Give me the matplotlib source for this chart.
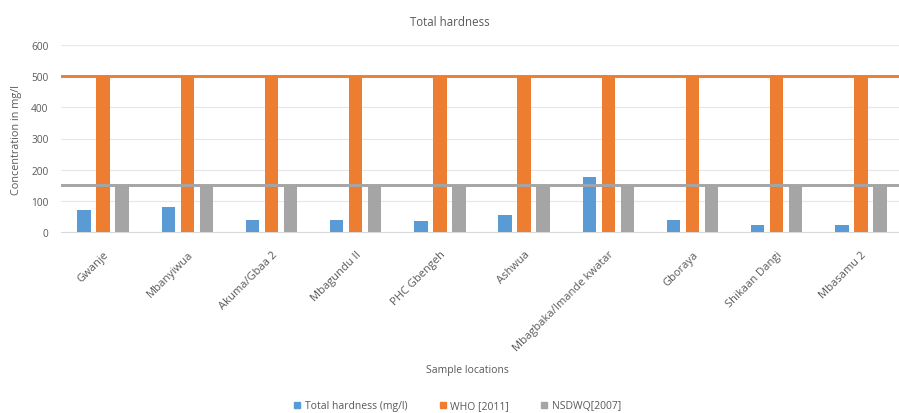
import matplotlib.pyplot as plt
import numpy as np
from matplotlib.lines import Line2D

plt.rcParams['font.family'] = ['Open Sans', 'DejaVu Sans']

locations = ["Gwanje", "Mbanyiwua", "Akuma/Gbaa 2", "Mbagundu II", "PHC Gbengeh",
             "Ashwua", "Mbagbaka/Imande kwatar", "Gboraya", "Shikaan Dangi", "Mbasamu 2"]
hardness = [71, 80, 37, 37, 34, 53, 176, 37, 23, 23]
who_2011 = [500] * 10
nsdwq_2007 = [150] * 10

blue = '#5B9BD5'
orange = '#ED7D31'
grey = '#A5A5A5'
txt = '#595959'

fig = plt.figure(figsize=(8.99, 4.14), dpi=100)
ax = fig.add_axes([61/899, 1 - 233/414, 842/899, (233 - 46)/414])

x = np.arange(len(locations))
w = 0.16
ax.bar(x - 0.225, hardness, w, color=blue, zorder=3)
ax.bar(x, who_2011, w, color=orange, zorder=3)
ax.bar(x + 0.225, nsdwq_2007, w, color=grey, zorder=3)

# guideline values drawn across the whole plot
ax.axhline(who_2011[0], color=orange, lw=2.1, zorder=4)
ax.axhline(nsdwq_2007[0], color=grey, lw=2.1, zorder=4)

ax.set_xlim(-0.5, len(locations) - 0.5)
ax.set_ylim(0, 600)
ax.set_yticks(range(0, 601, 100))
ax.grid(axis='y', color='#E6E6E6', lw=0.8, zorder=0)
for s in ['top', 'right', 'left']:
    ax.spines[s].set_visible(False)
ax.spines['bottom'].set_color('#D9D9D9')
ax.tick_params(axis='both', length=0, colors=txt)
ax.tick_params(axis='y', pad=9, labelsize=7.3)
ax.set_xticks(x)
ax.set_xticklabels(locations, rotation=45, ha='right', rotation_mode='anchor')
ax.tick_params(axis='x', pad=12, labelsize=8)

fig.text(17/899, 1 - 140/414, "Concentration in mg/l", color=txt, fontsize=7.8,
         rotation=90, ha='center', va='center')
fig.text(467/899, 1 - 371/414, "Sample locations", color=txt, fontsize=7.5,
         ha='center', va='center')
fig.text(450/899, 1 - 22/414, "Total hardness", color=txt, fontsize=8.3,
         ha='center', va='center')

handles = [Line2D([], [], ls='none', marker='s', ms=4, color=c) for c in (blue, orange, grey)]
fig.legend(handles, ["Total hardness (mg/l)", "WHO [2011]", "NSDWQ[2007]"],
           loc='center', bbox_to_anchor=(457/899, 1 - 407/414), ncol=3, frameon=False,
           fontsize=7.5, labelcolor=txt, handlelength=0.8, handletextpad=0.3,
           columnspacing=3.0)

fig.savefig('out.png', dpi=100)
